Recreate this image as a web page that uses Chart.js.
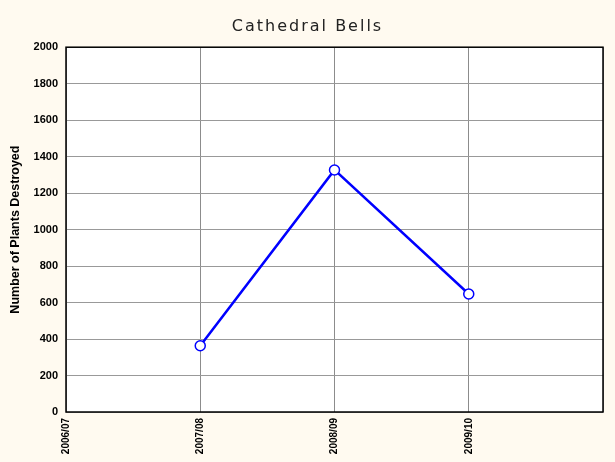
<!DOCTYPE html>
<html>
<head>
<meta charset="utf-8">
<script src="https://cdn.jsdelivr.net/npm/chart.js@4"></script>
<style>
    html, body { margin: 0; padding: 0; background: #fffaf0; }
    #wrap { width: 615px; height: 462px; }
</style>
</head>
<body>
<div id="wrap"><canvas id="chart1"></canvas></div>
<script>
// Dados do gráfico
const seasons = ['2006/07', '2007/08', '2008/09', '2009/10', ''];
const plantsDestroyed = [null, 363, 1327, 647, null];
const yTicks = [0, 200, 400, 600, 800, 1000, 1200, 1400, 1600, 1800, 2000];

// Fundo creme + borda da área do gráfico
const framePlugin = {
    id: 'frame',
    beforeDraw(chart) {
        const ctx = chart.ctx;
        const a = chart.chartArea;
        ctx.save();
        ctx.fillStyle = '#fffaf0';
        ctx.fillRect(0, 0, chart.width, chart.height);
        ctx.fillStyle = '#ffffff';
        ctx.fillRect(a.left, a.top, a.right - a.left, a.bottom - a.top);
        ctx.restore();
    },
    afterDatasetsDraw(chart) {
        const ctx = chart.ctx;
        const a = chart.chartArea;
        ctx.save();
        ctx.strokeStyle = '#000000';
        ctx.lineWidth = 1.5;
        ctx.strokeRect(a.left, a.top, a.right - a.left, a.bottom - a.top);
        ctx.restore();
    }
};

const chart = new Chart(document.getElementById('chart1'), {
    type: 'line',
    data: {
        labels: seasons,
        datasets: [{
            label: 'Cathedral Bells',
            data: plantsDestroyed,
            borderColor: '#0000ff',
            borderWidth: 2.5,
            pointRadius: 5,
            pointBorderWidth: 1.5,
            pointBackgroundColor: '#ffffff',
            pointBorderColor: '#0000ff',
            spanGaps: false,
            tension: 0
        }]
    },
    options: {
        responsive: true,
        maintainAspectRatio: false,
        animation: false,
        layout: { padding: 0 },
        plugins: {
            legend: { display: false },
            tooltip: { enabled: false },
            title: {
                display: true,
                text: 'Cathedral Bells',
                color: '#222222',
                font: { family: 'DejaVu Sans', size: 16, weight: 'normal' },
                padding: { top: 17, bottom: 11 }
            }
        },
        scales: {
            x: {
                type: 'category',
                offset: false,
                grid: { color: '#8c8c8c', lineWidth: 1, drawTicks: false },
                border: { display: false },
                ticks: {
                    autoSkip: false,
                    minRotation: 90,
                    maxRotation: 90,
                    padding: 6,
                    color: '#000000',
                    font: { family: 'Liberation Sans', size: 10, weight: 'bold' }
                },
                afterFit(scale) {
                    scale.height = 50;
                    scale.paddingLeft = 0;
                    scale.paddingRight = 12;
                }
            },
            y: {
                min: 0,
                max: 2000,
                afterBuildTicks(scale) { scale.ticks = yTicks.map(v => ({ value: v })); },
                grid: { color: '#999999', lineWidth: 1, drawTicks: false },
                border: { display: false },
                ticks: {
                    padding: 8,
                    color: '#000000',
                    font: { family: 'Liberation Sans', size: 11, weight: 'bold' },
                    callback: (v) => String(v)
                },
                title: {
                    display: true,
                    text: 'Number of Plants Destroyed',
                    color: '#000000',
                    font: { family: 'Liberation Sans', size: 12.5, weight: 'bold' },
                    padding: { top: 8, bottom: 0 }
                },
                afterFit(scale) { scale.width = 66; }
            }
        }
    },
    plugins: [framePlugin]
});

// título com espaçamento entre letras
const origTitleDraw = chart.titleBlock.draw;
chart.titleBlock.draw = function () {
    const ctx = chart.ctx;
    ctx.save();
    ctx.letterSpacing = '2px';
    origTitleDraw.apply(this, arguments);
    ctx.restore();
};
chart.draw();
</script>
</body>
</html>
